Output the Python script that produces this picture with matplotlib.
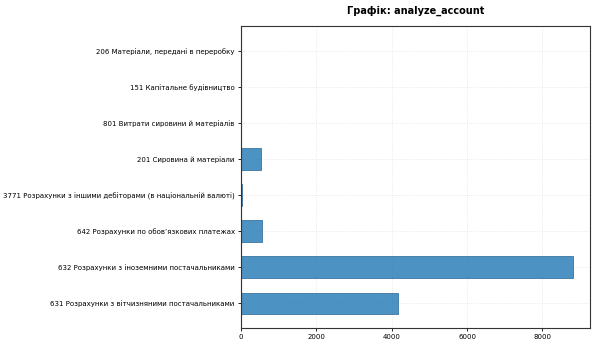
import matplotlib
matplotlib.use("Agg")
import matplotlib.pyplot as plt

# рахунки знизу вгору, як на графіку
accounts = [
    "631 Розрахунки з вітчизняними постачальниками",
    "632 Розрахунки з іноземними постачальниками",
    "642 Розрахунки по обов’язкових платежах",
    "3771 Розрахунки з іншими дебіторами (в національній валюті)",
    "201 Сировина й матеріали",
    "801 Витрати сировини й матеріалів",
    "151 Капітальне будівництво",
    "206 Матеріали, передані в переробку",
]
amounts = [4170, 8820, 550, 30, 530, 0, 0, 0]
xticks = [0, 2000, 4000, 6000, 8000]

fig = plt.figure(figsize=(5.95, 3.45), dpi=100)
ax = fig.add_axes([241 / 595, 1 - 328 / 345, 349 / 595, 302 / 345])

ax.barh(accounts, amounts, height=0.6, color="#1f77b4", alpha=0.8,
        edgecolor="#1f5f8f", linewidth=0.6)
ax.axvline(0, color="gray", linewidth=1.5)
ax.set_xticks(xticks)
ax.tick_params(labelsize=5, length=2.5, width=0.6, pad=2)
ax.grid(True, color="#dddddd", linestyle=":", linewidth=0.6, alpha=0.8)
ax.set_axisbelow(True)
for s in ax.spines.values():
    s.set_linewidth(0.8)
    s.set_color("#333333")
ax.set_title("Графік: analyze_account", fontsize=7, fontweight="bold", pad=9)

fig.savefig("out.png", dpi=100)
